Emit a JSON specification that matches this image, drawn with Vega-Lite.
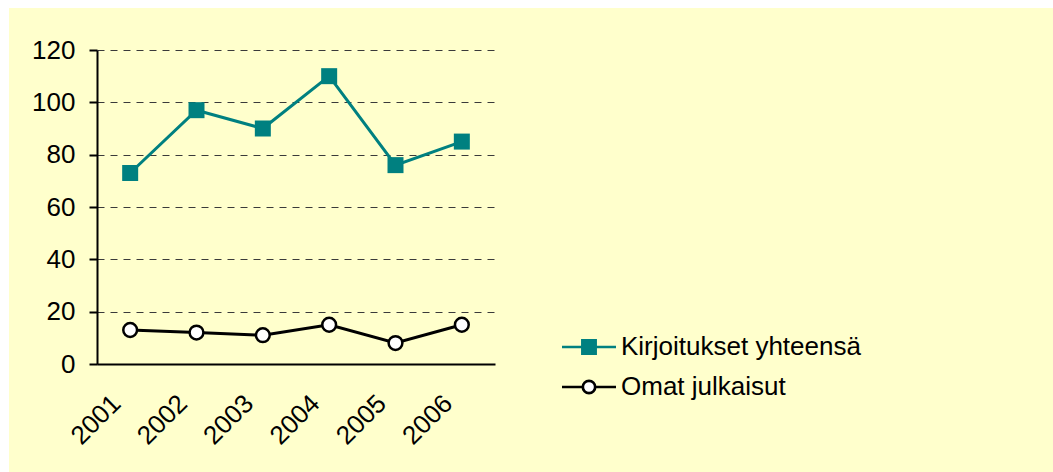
{
  "$schema": "https://vega.github.io/schema/vega-lite/v6.json",
  "width": 1044,
  "height": 464,
  "autosize": {"type": "none"},
  "padding": {"left": 9, "top": 8, "right": 0, "bottom": 0},
  "background": "white",
  "config": {
    "view": {"fill": "#FFFFCC", "stroke": null},
    "font": "Liberation Sans",
    "axis": {"labelFont": "Liberation Sans", "labelFontSize": 26, "labelColor": "black"},
    "legend": {"labelFont": "Liberation Sans", "labelFontSize": 26, "labelColor": "black"}
  },
  "data": {
    "values": [
      {"year": "2001", "series": "Kirjoitukset yhteensä", "value": 73},
      {"year": "2002", "series": "Kirjoitukset yhteensä", "value": 97},
      {"year": "2003", "series": "Kirjoitukset yhteensä", "value": 90},
      {"year": "2004", "series": "Kirjoitukset yhteensä", "value": 110},
      {"year": "2005", "series": "Kirjoitukset yhteensä", "value": 76},
      {"year": "2006", "series": "Kirjoitukset yhteensä", "value": 85},
      {"year": "2001", "series": "Omat julkaisut", "value": 13},
      {"year": "2002", "series": "Omat julkaisut", "value": 12},
      {"year": "2003", "series": "Omat julkaisut", "value": 11},
      {"year": "2004", "series": "Omat julkaisut", "value": 15},
      {"year": "2005", "series": "Omat julkaisut", "value": 8},
      {"year": "2006", "series": "Omat julkaisut", "value": 15}
    ]
  },
  "encoding": {
    "x": {
      "field": "year",
      "type": "ordinal",
      "sort": null,
      "scale": {"type": "point", "range": [88, 486], "padding": 0.5},
      "axis": {
        "title": null,
        "offset": -108,
        "labelAngle": -45,
        "labelAlign": "right",
        "labelBaseline": "middle",
        "labelPadding": 35,
        "labelOffset": -14,
        "ticks": false,
        "tickSize": 0,
        "domainColor": "black",
        "domainWidth": 2,
        "grid": false
      }
    },
    "y": {
      "field": "value",
      "type": "quantitative",
      "scale": {"domain": [0, 120], "range": [356, 42], "nice": false, "zero": true},
      "axis": {
        "title": null,
        "offset": -88,
        "values": [0, 20, 40, 60, 80, 100, 120],
        "tickSize": 8,
        "tickColor": "black",
        "tickWidth": 2,
        "domainColor": "black",
        "domainWidth": 2,
        "labelPadding": 14,
        "grid": true,
        "gridColor": "#3a3a3a",
        "gridDash": [7, 6],
        "gridWidth": 1
      }
    }
  },
  "layer": [
    {
      "mark": {"type": "line", "strokeWidth": 3},
      "encoding": {
        "color": {
          "field": "series",
          "type": "nominal",
          "scale": {"domain": ["Kirjoitukset yhteensä", "Omat julkaisut"], "range": ["#008080", "#000000"]},
          "legend": {
            "title": null,
            "orient": "none",
            "legendX": 567,
            "legendY": 326,
            "padding": 0,
            "symbolSize": 400,
            "labelOffset": 19,
            "labelLimit": 0,
            "rowPadding": 14,
            "encode": {
              "symbols": {
                "update": {
                  "shape": {"signal": "datum.value === 'Kirjoitukset yhteensä' ? 'M-2.7,0H2.7M-0.66,-0.66H0.66V0.66H-0.66Z' : 'M-2.7,0H-0.62M0.62,0H2.7M-0.62,0A0.62,0.62 0 1,0 0.62,0A0.62,0.62 0 1,0 -0.62,0Z'"},
                  "fill": {"signal": "datum.value === 'Kirjoitukset yhteensä' ? '#008080' : '#ffffff'"},
                  "stroke": {"signal": "datum.value === 'Kirjoitukset yhteensä' ? '#008080' : '#000000'"},
                  "strokeWidth": {"value": 2.7},
                  "opacity": {"value": 1},
                  "fillOpacity": {"value": 1}
                }
              }
            }
          }
        }
      }
    },
    {
      "transform": [{"filter": "datum.series === 'Kirjoitukset yhteensä'"}],
      "mark": {"type": "point", "shape": "square", "filled": true, "size": 256, "color": "#008080", "opacity": 1}
    },
    {
      "transform": [{"filter": "datum.series === 'Omat julkaisut'"}],
      "mark": {"type": "point", "shape": "circle", "filled": false, "fill": "#ffffff", "fillOpacity": 1, "stroke": "#000000", "strokeWidth": 2.5, "size": 190, "opacity": 1}
    }
  ]
}
